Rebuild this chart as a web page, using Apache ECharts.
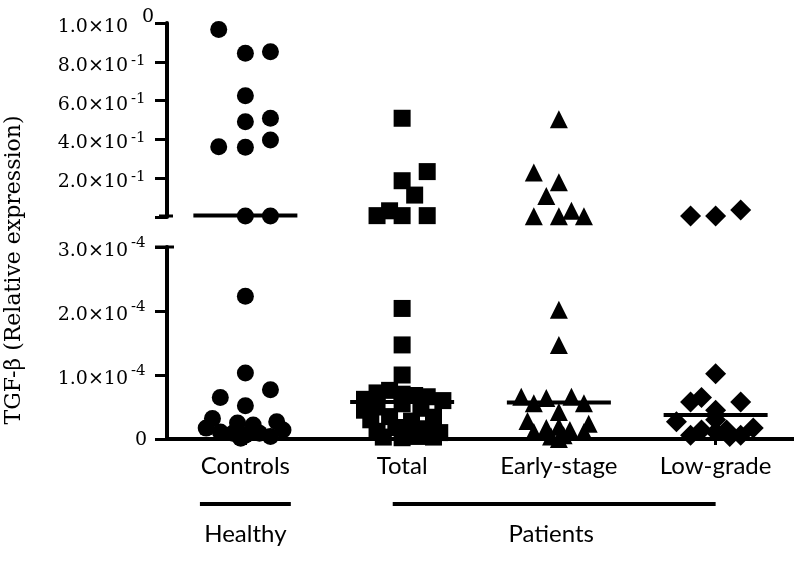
<!DOCTYPE html>
<html><head><meta charset="utf-8">
<script src="https://cdn.jsdelivr.net/npm/echarts@6/dist/echarts.min.js"></script>
<style>html,body{margin:0;padding:0;background:#fff}#c{width:794px;height:563px}</style>
</head><body><div id="c"></div>
<script>
// ---- data ----
const categories = ['Controls', 'Total', 'Early-stage', 'Low-grade'];
const groupNames = ['Healthy', 'Patients'];
const groupSpans = [[-0.29, 0.29], [0.94, 3.0]];   // category-unit spans of the group brackets
const topTicks = [0.2, 0.4, 0.6, 0.8, 1.0];
const topTickLabels = [['2.0×10', '-1'], ['4.0×10', '-1'], ['6.0×10', '-1'], ['8.0×10', '-1'], ['1.0×10', '0']];
const bottomTicks = [0, 1e-4, 2e-4, 3e-4];
const bottomTickLabels = [['0', ''], ['1.0×10', '-4'], ['2.0×10', '-4'], ['3.0×10', '-4']];
const yTitle = 'TGF-β (Relative expression)';

// [jitter offset (category units), value] — upper segment (0 – 1.0)
const controlsUpper = [[-0.17,0.967],[0,0.844],[0.16,0.852],[0,0.625],[0,0.491],[0.16,0.509],[-0.17,0.362],[0,0.359],[0.16,0.397],[0,0.005],[0.16,0.005]];
const totalUpper = [[0,0.509],[0.16,0.234],[0,0.187],[0.08,0.113],[-0.16,0.007],[-0.08,0.032],[0,0.007],[0.16,0.007]];
const earlyUpper = [[0,0.504],[-0.16,0.230],[0,0.179],[-0.08,0.108],[-0.16,0.004],[0,0.004],[0.08,0.032],[0.16,0.004]];
const lowUpper = [[-0.16,0.005],[0,0.005],[0.16,0.036]];

// lower segment (0 – 3.0e-4)
const controlsLower = [[0,2.23e-4],[0,1.03e-4],[0.16,0.77e-4],[-0.16,0.65e-4],[0,0.52e-4],[-0.21,0.32e-4],[0.2,0.27e-4],
  [-0.25,0.17e-4],[-0.16,0.11e-4],[-0.05,0.25e-4],[0.05,0.22e-4],[0,0.06e-4],[0.09,0.09e-4],[0.16,0.04e-4],[0.24,0.14e-4],[-0.08,0.09e-4],[-0.03,0.01e-4]];
const totalLower = [[0,2.04e-4],[0,1.47e-4],[0,1.0e-4],
  [-0.24,0.62e-4],[-0.16,0.72e-4],[-0.08,0.76e-4],[0,0.70e-4],[0.08,0.68e-4],[0.16,0.66e-4],[0.26,0.60e-4],
  [-0.24,0.45e-4],[-0.16,0.50e-4],[0,0.55e-4],[0.12,0.48e-4],
  [-0.2,0.30e-4],[-0.08,0.35e-4],[0.06,0.28e-4],[0.2,0.34e-4],
  [-0.16,0.12e-4],[-0.04,0.18e-4],[0.04,0.10e-4],[0.14,0.16e-4],[0.24,0.10e-4],
  [-0.12,0.03e-4],[0,0.02e-4],[0.1,0.04e-4],[0.2,0.03e-4]];
const earlyLower = [[0,2.02e-4],[0,1.47e-4],
  [-0.24,0.66e-4],[-0.16,0.56e-4],[-0.08,0.64e-4],[0.08,0.66e-4],[0.16,0.56e-4],
  [-0.2,0.28e-4],[0,0.42e-4],[0.19,0.24e-4],[-0.16,0.11e-4],[-0.08,0.17e-4],[0,0.19e-4],
  [-0.05,0.04e-4],[0.03,0.06e-4],[0.07,0.14e-4],[0.16,0.11e-4],[0,0.0]];
const lowLower = [[0,1.02e-4],[-0.16,0.58e-4],[-0.09,0.65e-4],[0.16,0.58e-4],[0,0.45e-4],[-0.25,0.27e-4],[0,0.30e-4],
  [-0.16,0.06e-4],[-0.09,0.14e-4],[0,0.11e-4],[0.07,0.14e-4],[0.16,0.06e-4],[0.24,0.17e-4],[0.09,0.04e-4]];

// medians: [category index, value]
const mediansUpper = [[0, 0.008]];
const mediansLower = [[1, 0.58e-4], [2, 0.57e-4], [3, 0.375e-4]];

// ---- build ----
const upperSets = [controlsUpper, totalUpper, earlyUpper, lowUpper];
const lowerSets = [controlsLower, totalLower, earlyLower, lowLower];
const symbols = ['circle', 'rect', 'triangle', 'diamond'];
const symbolSizes = [17, 17, 18, 21];
const INK = '#000';
const SERIF = 'DejaVu Serif';
const SANS = 'Lato';

function place(set, ci) { return set.map(p => [ci + p[0], p[1]]); }

const mk = {color:INK, opacity:1};
const series = [];
for (let i = 0; i < 4; i++) {
  series.push({type:'scatter', xAxisIndex:0, yAxisIndex:0, symbol:symbols[i], symbolSize:symbolSizes[i],
    itemStyle:mk, data: place(upperSets[i], i), clip:false, silent:true, z:3});
  series.push({type:'scatter', xAxisIndex:1, yAxisIndex:1, symbol:symbols[i], symbolSize:symbolSizes[i],
    itemStyle:mk, data: place(lowerSets[i], i), clip:false, silent:true, z:3});
}
series.push({type:'scatter', xAxisIndex:0, yAxisIndex:0, symbol:'rect', symbolSize:[104,4], itemStyle:mk, data:mediansUpper, clip:false, silent:true, z:4});
series.push({type:'scatter', xAxisIndex:1, yAxisIndex:1, symbol:'rect', symbolSize:[104,4], itemStyle:mk, data:mediansLower, clip:false, silent:true, z:4});

const axisLine = {show:true, onZero:false, lineStyle:{color:INK, width:4}};
const yTick = {show:true, inside:false, length:12, lineStyle:{color:INK, width:3}};

const option = {
  animation:false,
  backgroundColor:'#fff',
  grid:[
    {left:167, right:0, top:23, bottom:346},
    {left:167, right:0, top:247, bottom:124}
  ],
  xAxis:[
    {gridIndex:0, type:'value', min:-0.5, max:3.5, show:false},
    {gridIndex:1, type:'value', min:-0.5, max:3.5, splitLine:{show:false},
      axisLine: axisLine,
      axisTick:{show:true, inside:false, length:6, customValues:[0,1,2,3], lineStyle:{color:INK, width:3}},
      axisLabel:{show:true, customValues:[0,1,2,3], margin:15, color:INK, fontFamily:SANS, fontSize:24,
        formatter: v => categories[Math.round(v)]}
    }
  ],
  yAxis:[
    {gridIndex:0, type:'value', min:0, max:1, interval:0.2, splitLine:{show:false},
      axisLine: axisLine, axisTick: yTick, axisLabel:{show:false}},
    {gridIndex:1, type:'value', min:0, max:3e-4, interval:1e-4, splitLine:{show:false},
      axisLine: axisLine, axisTick: yTick, axisLabel:{show:false}}
  ],
  series: series
};

const chart = echarts.init(document.getElementById('c'), null, {renderer:'canvas'});
chart.setOption(option);

// annotations: tick labels (scientific notation), axis title, group brackets, axis caps
const gfx = [];
const MAIN_FONT = '19px "' + SERIF + '"';
const SUP_FONT = '15px "' + SERIF + '"';
function tickLabel(gridIndex, value, parts, supRaise) {
  const p = chart.convertToPixel({gridIndex: gridIndex}, [-0.5, value]);
  const ax = p[0], y = p[1];
  const isZeroExp = parts[1] === '0';
  gfx.push({type:'text', x: ax - (parts[1] ? 39 : 20), y: y + (parts[1] ? 4 : 1),
    style:{text:parts[0], fill:INK, font:MAIN_FONT, textAlign:'right', textVerticalAlign:'middle'}});
  if (parts[1]) {
    gfx.push({type:'text', x: ax - (isZeroExp ? 25 : 36), y: y - (isZeroExp ? 6 : supRaise),
      style:{text:parts[1], fill:INK, font: isZeroExp ? MAIN_FONT : SUP_FONT, textAlign:'left', textVerticalAlign:'middle'}});
  }
}
topTicks.forEach((v, i) => tickLabel(0, v, topTickLabels[i], 1));
bottomTicks.forEach((v, i) => tickLabel(1, v, bottomTickLabels[i], 4));

const pTop = chart.convertToPixel({gridIndex:1}, [-0.5, 3e-4]);
const pBot = chart.convertToPixel({gridIndex:1}, [-0.5, 0]);
const pUpTop = chart.convertToPixel({gridIndex:0}, [-0.5, 1]);
const pUp0 = chart.convertToPixel({gridIndex:0}, [-0.5, 0]);
gfx.push({type:'text', x:14, y:(pUpTop[1] + pBot[1]) / 2 + 39, rotation:Math.PI/2,
  style:{text:yTitle, fill:INK, font:'22px "' + SERIF + '"', textAlign:'center', textVerticalAlign:'middle'}});
gfx.push({type:'line', shape:{x1:pUp0[0]-8, y1:pUp0[1]-1, x2:pUp0[0]+6, y2:pUp0[1]-1}, style:{stroke:INK, lineWidth:3}});
gfx.push({type:'line', shape:{x1:pTop[0]-12, y1:pTop[1], x2:pTop[0]+7, y2:pTop[1]}, style:{stroke:INK, lineWidth:3}});
const lineY = pBot[1] + 65, textY = pBot[1] + 95;
groupNames.forEach((g, i) => {
  const a = chart.convertToPixel({gridIndex:1}, [groupSpans[i][0], 0])[0];
  const b = chart.convertToPixel({gridIndex:1}, [groupSpans[i][1], 0])[0];
  gfx.push({type:'line', shape:{x1:a, y1:lineY, x2:b, y2:lineY}, style:{stroke:INK, lineWidth:4}});
  gfx.push({type:'text', x:(a + b) / 2 - (i === 1 ? 3 : 0), y:textY,
    style:{text:g, fill:INK, font:'24px "' + SANS + '"', textAlign:'center', textVerticalAlign:'middle'}});
});
chart.setOption({graphic: gfx});
</script>
</body></html>
